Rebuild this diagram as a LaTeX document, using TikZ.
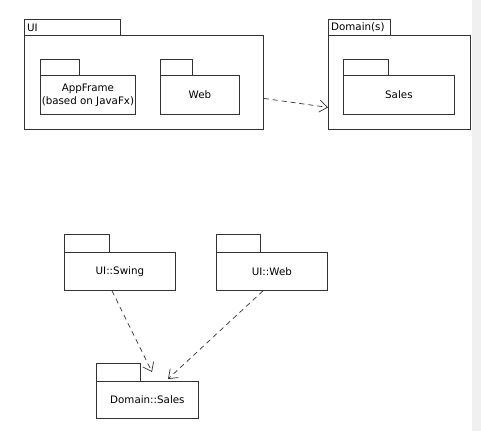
\documentclass[tikz,border=0pt]{standalone}
\usepackage{fontspec}
\setmainfont{DejaVu Sans}
\usetikzlibrary{arrows.meta}
\definecolor{lc}{HTML}{333333}
\definecolor{panel}{HTML}{F0F0F0}
\begin{document}
\begin{tikzpicture}[x=1pt,y=-1pt,
  pkg/.style={draw=lc, line width=0.8pt, fill=white, anchor=north west, inner sep=0pt, align=center,
    font=\fontsize{10.3}{13}\selectfont},
  pkgtab/.style={draw=lc, line width=0.8pt, fill=white, anchor=north west, inner sep=0pt},
  tablabel/.style={anchor=west, inner sep=3pt, font=\fontsize{10.3}{12}\selectfont},
  dep/.style={draw=lc, line width=0.7pt, dash pattern=on 5pt off 4pt,
    -{Straight Barb[length=8pt,width=12pt,line width=0.7pt]}}]
\useasboundingbox (0,0) rectangle (481,431);
\fill[white] (0,0) rectangle (481,431);
\fill[panel] (472,0) rectangle (481,431);
% UI package
\node[pkgtab, minimum width=96pt, minimum height=16pt] (uitab) at (24,19) {};
\node[tablabel] (uilbl) at (uitab.west) {UI};
\node[pkg, minimum width=239pt, minimum height=94pt] (ui) at (24,35) {};
\node[pkgtab, minimum width=39pt, minimum height=16pt] (apptab) at (40,59) {};
\node[pkg, minimum width=95pt, minimum height=39pt] (app) at (40,75) {AppFrame\\(based on JavaFx)};
\node[pkgtab, minimum width=32pt, minimum height=16pt] (webtab) at (160,59) {};
\node[pkg, minimum width=79pt, minimum height=39pt] (web) at (160,75) {Web};
% Domain package
\node[pkgtab, minimum width=62pt, minimum height=16pt] (domtab) at (328,19) {};
\node[tablabel] (domlbl) at (domtab.west) {Domain(s)};
\node[pkg, minimum width=142pt, minimum height=94pt] (dom) at (328,35) {};
\node[pkgtab, minimum width=45pt, minimum height=16pt] (salestab) at (343,59) {};
\node[pkg, minimum width=111pt, minimum height=39pt] (sales) at (343,75) {Sales};
\draw[dep] ([yshift=-16pt]ui.east) -- ([yshift=-25pt]dom.west);
% bottom packages
\node[pkgtab, minimum width=45pt, minimum height=18pt] (swingtab) at (64,234) {};
\node[pkg, minimum width=111pt, minimum height=38pt] (swing) at (64,252) {UI::Swing};
\node[pkgtab, minimum width=44pt, minimum height=18pt] (uiwebtab) at (216,234) {};
\node[pkg, minimum width=111pt, minimum height=38pt] (uiweb) at (216,252) {UI::Web};
\node[pkgtab, minimum width=44pt, minimum height=18pt] (dsalestab) at (96,363) {};
\node[pkg, minimum width=102pt, minimum height=37pt] (dsales) at (96,381) {Domain::Sales};
\draw[dep] ([shift={(48,0)}]swing.south west) -- ([shift={(56,-9)}]dsales.north west);
\draw[dep] ([shift={(47,0)}]uiweb.south west) -- ([shift={(72,-2)}]dsales.north west);
\end{tikzpicture}
\end{document}
